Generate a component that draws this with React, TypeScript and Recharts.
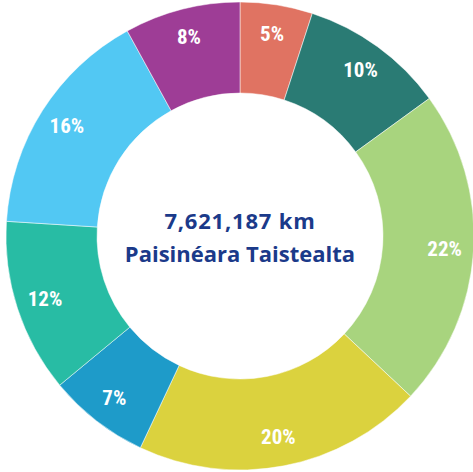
import React from 'react';
import { PieChart, Pie, Cell } from 'recharts';

const categories = ['A', 'B', 'C', 'D', 'E', 'F', 'G', 'H'];
const values = [5, 10, 22, 20, 7, 12, 16, 8];
const colors = ['#E07362', '#2A7B74', '#A8D47E', '#DBD23E', '#1E9BC9', '#28BCA4', '#52C8F3', '#9E3D96'];
const centerLine1 = '7,621,187 km';
const centerLine2 = 'Paisinéara Taistealta';

const data = categories.map((c, i) => ({ name: c, value: values[i] }));

const RAD = Math.PI / 180;

const renderLabel = (props: any) => {
  const { cx, cy, midAngle, value } = props;
  const r = 205;
  const x = cx + r * Math.cos(-midAngle * RAD);
  const y = cy + r * Math.sin(-midAngle * RAD);
  return (
    <text
      x={x}
      y={y}
      fill="#ffffff"
      textAnchor="middle"
      dominantBaseline="central"
      fontFamily="'Liberation Sans Narrow', 'Roboto Condensed', 'Open Sans', sans-serif"
      fontWeight="bold"
      fontSize={21}
    >
      {`${value}%`}
    </text>
  );
};

export default function App() {
  return (
    <div style={{ position: 'absolute', left: 0, top: 0, width: 473, height: 472, background: '#fff' }}>
      <PieChart width={473} height={472} margin={{ top: 0, right: 0, bottom: 0, left: 0 }}>
        <Pie
          data={data}
          dataKey="value"
          cx={240}
          cy={236}
          innerRadius={143}
          outerRadius={234}
          startAngle={90}
          endAngle={-270}
          stroke="#ffffff"
          strokeWidth={0.5}
          label={renderLabel}
          labelLine={false}
          isAnimationActive={false}
        >
          {data.map((d, i) => (
            <Cell key={d.name} fill={colors[i]} />
          ))}
        </Pie>
        <text
          x={240}
          y={220}
          textAnchor="middle"
          dominantBaseline="central"
          fill="#1B3A8A"
          fontFamily="'Open Sans', sans-serif"
          fontWeight="bold"
          fontSize={22}
          letterSpacing={0.8}
        >
          {centerLine1}
        </text>
        <text
          x={240}
          y={253}
          textAnchor="middle"
          dominantBaseline="central"
          fill="#1B3A8A"
          fontFamily="'Open Sans', sans-serif"
          fontWeight="bold"
          fontSize={22}
        >
          {centerLine2}
        </text>
      </PieChart>
    </div>
  );
}
